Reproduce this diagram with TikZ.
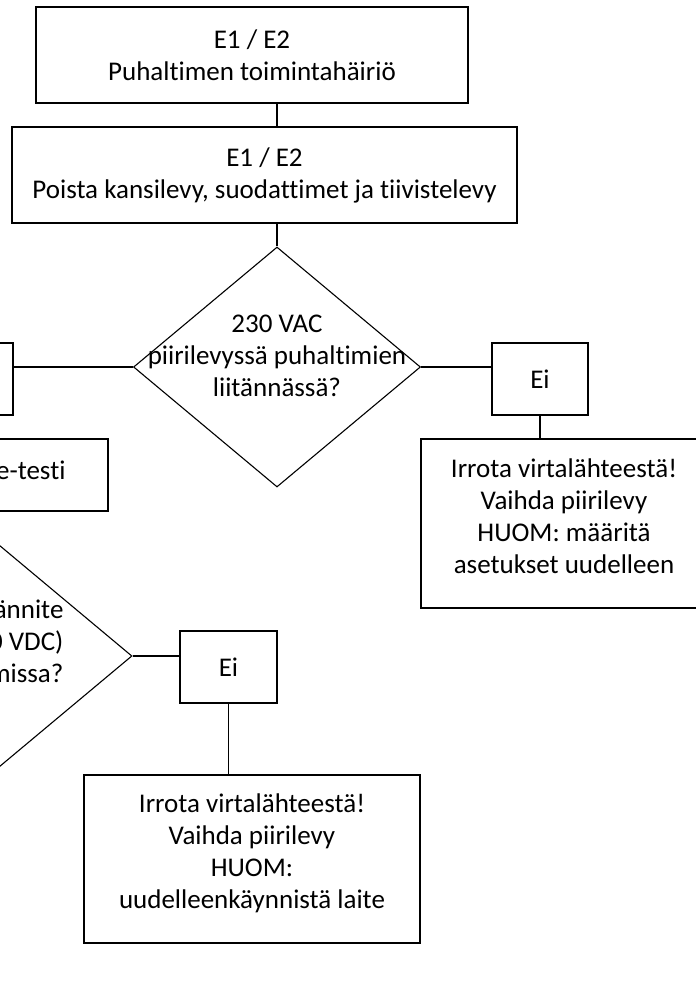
\documentclass[tikz,border=0pt]{standalone}
\usepackage{fontspec}
\setmainfont[Ligatures={NoCommon}]{Carlito}
\usetikzlibrary{shapes.geometric}
\begin{document}
\begin{tikzpicture}[x=1pt,y=-1pt,line width=1.1pt,
  txt/.style={font=\fontsize{27}{32}\selectfont,align=center,inner sep=0pt},
  box/.style={draw,rectangle,inner sep=0pt,font=\fontsize{27}{32}\selectfont,align=center},
  dia/.style={draw,diamond,inner sep=0pt,minimum width=287pt,minimum height=240pt,aspect=1.2}]
\useasboundingbox (0,0) rectangle (696,986);
\clip (0,0) rectangle (696,986);
% boxes
\node[box,minimum width=432pt,minimum height=96pt] (b1) at (252,55) {E1 / E2\\Puhaltimen toimintahäiriö};
\node[box,minimum width=505pt,minimum height=96pt] (b2) at (264.5,175) {E1 / E2\\Poista kansilevy, suodattimet ja tiivistelevy};
\node[dia] (d1) at (277,367) {};
\node[txt] (d1t) at (277,356) {230 VAC\\piirilevyssä puhaltimien\\liitännässä?};
\node[box,minimum width=103pt,minimum height=72pt] (lb) at (-38.5,379) {};
\node[box,minimum width=96pt,minimum height=72pt] (ei1) at (540,379) {Ei};
\node[box,minimum width=336pt,minimum height=169pt] (r1) at (589,523.5) {};
\node[txt] (r1t) at (564,516) {Irrota virtalähteestä!\\Vaihda piirilevy\\HUOM: määritä\\asetukset uudelleen};
\node[box,minimum width=228pt,minimum height=72pt] (et) at (-6,475) {};
\node[txt,anchor=east] (ett) at (66,470) {e-testi};
\node[dia] (d2) at (-11.5,656) {};
\node[txt,align=right,anchor=east] (d2t) at (64,641) {ännite\\0 VDC)\\missa?};
\node[box,minimum width=97pt,minimum height=72pt] (ei2) at (228.5,667) {Ei};
\node[box,minimum width=336pt,minimum height=168pt] (r2) at (252,859) {};
\node[txt] (r2t) at (252,853) {Irrota virtalähteestä!\\Vaihda piirilevy\\HUOM:\\uudelleenkäynnistä laite};
% connectors
\draw (b1.south -| d1.north) -- (b2.north -| d1.north);
\draw (b2.south -| d1.north) -- (d1.north);
\draw (d1.west) -- (d1.west -| lb.east);
\draw (d1.east) -- (d1.east -| ei1.west);
\draw (ei1.south) -- (ei1.south |- r1.north);
\draw (d2.east) -- (d2.east -| ei2.west);
\draw (ei2.south) -- (ei2.south |- r2.north);
\end{tikzpicture}
\end{document}
